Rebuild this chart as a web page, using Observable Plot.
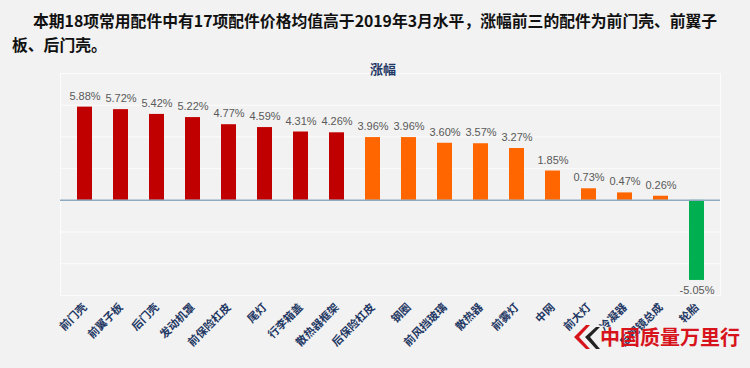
<!DOCTYPE html>
<html><head><meta charset="utf-8">
<script src="https://cdn.jsdelivr.net/npm/d3@7"></script>
<script src="https://cdn.jsdelivr.net/npm/@observablehq/plot@0.6"></script>
<style>
html,body{margin:0;padding:0;background:#f2f2f2;}
#wrap{position:relative;width:750px;height:368px;overflow:hidden;background:#f2f2f2;}
#chart{position:absolute;left:0;top:0;}
#head{position:absolute;left:12px;top:9px;width:736px;font-family:"Noto Sans CJK SC";font-weight:bold;font-size:15.8px;line-height:24px;color:#111;letter-spacing:0px;white-space:nowrap;}
#head .l1{padding-left:21px;}
#title{position:absolute;left:0;width:766px;top:61px;text-align:center;font-family:"Noto Sans CJK SC";font-weight:bold;font-size:13px;line-height:16px;color:#1f3864;}
#wm{position:absolute;left:572px;top:322px;display:flex;align-items:center;}
#wm .t{font-family:"Noto Sans CJK SC";font-weight:bold;font-size:20px;color:#d7141c;letter-spacing:0px;}
</style>
</head><body>
<div id="wrap">
  <div id="chart"></div>
  <div id="head"><div class="l1">本期18项常用配件中有17项配件价格均值高于2019年3月水平，涨幅前三的配件为前门壳、前翼子</div><div>板、后门壳。</div></div>
  <div id="title">涨幅</div>
  <div id="wm"><svg width="28" height="28" viewBox="0 0 28 28"><path d="M14 2 L2 14 L14 26 L18 26 L7 14 L18 2 Z" fill="#d7141c"/><path d="M24 4 L13 14 L24 26 L28 26 L18 14 L28 4 Z" fill="#222"/></svg><span class="t">中国质量万里行</span></div>
</div>
<script>
const categories = ["前门壳","前翼子板","后门壳","发动机罩","前保险杠皮","尾灯","行李箱盖","散热器框架","后保险杠皮","钢圈","前风挡玻璃","散热器","前雾灯","中网","前大灯","冷凝器","后视镜总成","轮胎"];
const values = [5.88,5.72,5.42,5.22,4.77,4.59,4.31,4.26,3.96,3.96,3.60,3.57,3.27,1.85,0.73,0.47,0.26,-5.05];
const yTicks = [-6,-4,-2,0,2,4,6,8];

const data = categories.map((c, i) => ({part: c, value: values[i]}));
const colorOf = v => v < 0 ? "#00b050" : v > 4.1 ? "#c00000" : "#ff6600";
const fmt = v => v.toFixed(2) + "%";

const chart = Plot.plot({
  width: 750,
  height: 368,
  marginLeft: 60,
  marginRight: 30,
  marginTop: 73,
  marginBottom: 73,
  style: {background: "transparent", fontFamily: "'Liberation Sans', Arial, sans-serif", overflow: "visible"},
  x: {domain: categories, paddingInner: 0.59, paddingOuter: 0.295, axis: null},
  y: {domain: [-6, 8], axis: null},
  color: {type: "identity"},
  marks: [
    Plot.ruleY(yTicks, {stroke: "#fcfcfc", strokeWidth: 1}),
    Plot.frame({stroke: "#fcfcfc", strokeWidth: 1}),
    Plot.barY(data, {x: "part", y: "value", fill: d => colorOf(d.value)}),
    Plot.ruleY([0], {stroke: "#8fa9c0", strokeWidth: 1.5}),
    Plot.text(data.filter(d => d.value >= 0), {x: "part", y: "value", text: d => fmt(d.value), dy: -11, fill: "#595959", fontSize: 11}),
    Plot.text(data.filter(d => d.value < 0), {x: "part", y: "value", text: d => fmt(d.value), dy: 10, fill: "#595959", fontSize: 11}),
    Plot.axisX({anchor: "bottom", tickSize: 0, tickPadding: 10, tickRotate: -45, fontSize: 11, fontWeight: "bold", fill: "#1f3864", fontFamily: "'Noto Sans CJK SC'", label: null})
  ]
});
document.getElementById("chart").appendChild(chart);
</script>
</body></html>
